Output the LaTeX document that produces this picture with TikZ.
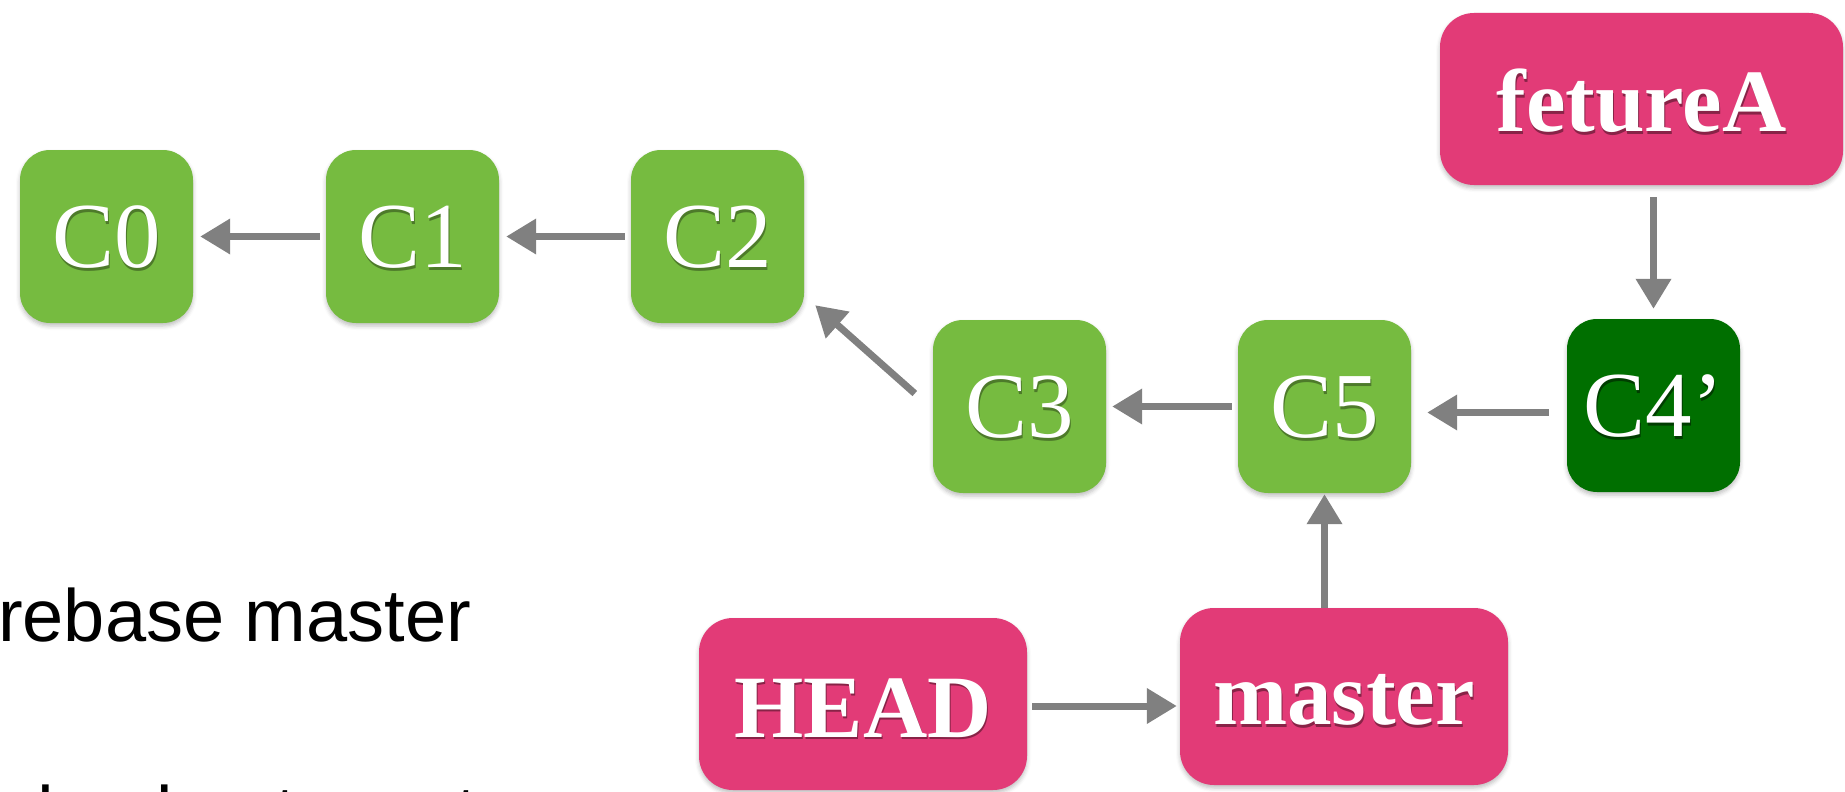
\documentclass[tikz,border=0pt]{standalone}
\usepackage{fontspec}
\setmainfont{Liberation Serif}
\newfontfamily\sansf{Liberation Sans}
\usetikzlibrary{arrows.meta,shadows.blur}
\definecolor{cgreen}{HTML}{76BB40}
\definecolor{cdgreen}{HTML}{006F00}
\definecolor{cpink}{HTML}{E23B77}
\definecolor{carrow}{HTML}{808080}
% text with a small dark shadow, lowered by #1 without changing the box size
\newcommand\shtxt[3]{\raisebox{-#1}[\height][\depth]{\makebox[0pt][l]{\hspace{1pt}\raisebox{-2.5pt}{\textcolor{#2}{#3}}}#3}}
\begin{document}
\begin{tikzpicture}[x=1pt,y=-1pt,
 box/.style={rounded corners=30pt, inner sep=0pt, text=white,
   blur shadow={shadow xshift=0pt, shadow yshift=-3pt, shadow blur radius=4pt, shadow opacity=25}},
 commit/.style={box, fill=cgreen, minimum width=173pt, minimum height=173pt, font=\fontsize{93}{93}\selectfont},
 newcommit/.style={commit, fill=cdgreen},
 ref/.style={box, rounded corners=34pt, fill=cpink, minimum height=174pt, font=\bfseries\fontsize{89}{89}\selectfont},
 arr/.style={draw=carrow, line width=7pt, -{Triangle[length=30pt,width=34pt]}},
 note/.style={anchor=base west, inner sep=0pt, text=black, font=\sansf\fontsize{74}{74}\selectfont}
]
\useasboundingbox (0,0) rectangle (1845,792);
\node[commit] (C0) at (106.5,236.5) {\shtxt{2pt}{cgreen!65!black}{C0}};
\node[commit] (C1) at (412.5,236.5) {\shtxt{2pt}{cgreen!65!black}{C1}};
\node[commit] (C2) at (717.5,236.5) {\shtxt{2pt}{cgreen!65!black}{C2}};
\node[commit] (C3) at (1019.5,406.5) {\shtxt{2pt}{cgreen!65!black}{C3}};
\node[commit] (C5) at (1324.5,406.5) {\shtxt{2pt}{cgreen!65!black}{C5}};
\node[newcommit] (C4p) at (1653.5,405.5) {\shtxt{2pt}{cdgreen!55!black}{C4’}};
\node[ref, minimum width=403pt, minimum height=172pt] (feat) at (1641.5,99) {\shtxt{3pt}{cpink!60!black}{fetureA}};
\node[ref, minimum width=328pt, minimum height=172pt] (head) at (863,704) {\shtxt{5pt}{cpink!60!black}{HEAD}};
\node[ref, minimum width=328pt, minimum height=177pt] (master) at (1344,696.5) {\shtxt{5pt}{cpink!60!black}{master}};

\draw[arr, shorten <=6pt, shorten >=7pt] (C1) -- (C0);
\draw[arr, shorten <=6pt, shorten >=7pt] (C2) -- (C1);
\draw[arr] ([xshift=-18pt,yshift=13pt]C3.west) -- ([xshift=11pt,yshift=18pt]C2.south east);
\draw[arr, shorten <=6pt, shorten >=6pt] (C5) -- (C3);
\draw[arr, shorten <=18pt, shorten >=16pt] ([yshift=-7pt]C4p.west) -- ([yshift=-7pt]C4p.west -| C5.east);
\draw[arr, shorten <=12pt, shorten >=10pt] (C4p.north |- feat.south) -- (C4p.north);
\draw[arr, shorten >=1pt] (C5.south |- master.north) -- (C5.south);
\draw[arr, shorten <=5pt, shorten >=3pt] ([yshift=-2pt]head.east) -- ([yshift=-2pt]head.east -| master.west);

\node[note] (t1) at (-2,641) {rebase master};
\node[note] (t2) at (0,838) {checkout master};
\end{tikzpicture}
\end{document}
